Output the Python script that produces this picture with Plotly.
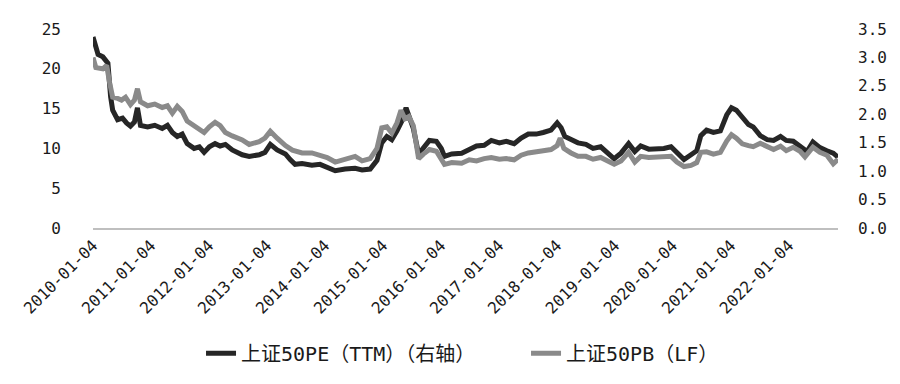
import plotly.graph_objects as go

pe_dates = ["2010-01-04","2010-01-16","2010-02-05","2010-03-07","2010-04-08","2010-04-25","2010-05-08","2010-06-08","2010-07-09","2010-08-03","2010-08-28","2010-09-22","2010-10-11","2010-10-30","2010-12-14",
            "2011-01-28","2011-03-16","2011-04-18","2011-05-19","2011-06-19","2011-07-20","2011-08-20","2011-10-03","2011-11-05","2011-12-05",
            "2012-01-07","2012-02-12","2012-03-15","2012-04-17","2012-05-30","2012-08-01","2012-09-14","2012-11-16","2012-12-22",
            "2013-01-25","2013-03-09","2013-04-30","2013-05-30","2013-06-30","2013-08-13","2013-10-14","2013-12-04",
            "2014-01-18","2014-03-10","2014-05-11","2014-07-13","2014-08-26","2014-10-16","2014-11-28","2014-12-28",
            "2015-01-29","2015-03-01","2015-04-03","2015-05-05","2015-05-30","2015-06-21","2015-07-15","2015-08-17","2015-09-16","2015-10-24","2015-12-07",
            "2016-01-07","2016-01-27","2016-03-13","2016-05-14","2016-07-01","2016-08-16","2016-10-03","2016-11-17",
            "2017-01-07","2017-02-19","2017-04-10","2017-05-24","2017-07-08","2017-08-27","2017-10-10","2017-11-28",
            "2018-01-06","2018-01-31","2018-02-23","2018-04-03","2018-05-17","2018-07-06","2018-08-20","2018-10-07","2018-11-21","2018-12-31",
            "2019-02-12","2019-04-01","2019-05-10","2019-06-16","2019-08-06","2019-09-27","2019-11-09","2019-12-24",
            "2020-01-30","2020-03-15","2020-04-28","2020-06-03","2020-06-29","2020-08-04","2020-09-16","2020-10-30","2020-12-09",
            "2021-01-08","2021-02-08","2021-03-17","2021-04-25","2021-05-25","2021-07-08","2021-08-21","2021-09-30","2021-11-13","2021-12-19",
            "2022-02-01","2022-03-16","2022-04-29","2022-06-05","2022-07-19","2022-09-01","2022-10-11","2022-11-10"]
pe_values = [24.0,23.0,21.8,21.5,20.7,16.5,14.8,13.6,13.8,13.2,12.8,13.3,15.1,12.9,12.7,
             12.9,12.5,12.9,12.0,11.5,11.8,10.6,10.0,10.2,9.5,
             10.2,10.6,10.3,10.5,9.8,9.2,9.0,9.2,9.5,
             10.5,9.8,9.3,8.6,8.0,8.1,7.9,8.0,
             7.6,7.2,7.4,7.5,7.3,7.4,8.5,10.7,
             11.5,11.1,12.2,13.5,15.1,14.0,12.5,9.3,10.0,11.0,10.9,
             10.0,9.0,9.3,9.4,9.8,10.3,10.4,11.0,
             10.7,10.9,10.6,11.3,11.8,11.8,12.0,12.3,
             13.2,12.6,11.5,11.1,10.7,10.5,10.0,10.2,9.5,8.7,
             9.4,10.6,9.6,10.3,9.9,9.9,10.0,10.2,
             9.5,8.6,9.2,9.7,11.6,12.3,12.0,12.2,14.2,
             15.1,14.8,13.8,13.0,12.7,11.6,11.1,11.0,11.5,11.0,
             10.9,10.3,9.6,10.8,10.1,9.7,9.4,8.9]

pb_dates = ["2010-01-04","2010-01-22","2010-03-07","2010-03-31","2010-04-19","2010-05-08","2010-06-08","2010-07-03","2010-07-28","2010-08-28","2010-09-22","2010-10-11","2010-10-30","2010-12-14",
            "2011-01-28","2011-03-16","2011-04-18","2011-05-19","2011-06-19","2011-07-20","2011-08-20","2011-10-03","2011-11-05","2011-12-05",
            "2012-01-07","2012-02-12","2012-03-15","2012-04-17","2012-05-30","2012-08-01","2012-09-14","2012-11-16","2012-12-22",
            "2013-01-25","2013-03-09","2013-04-30","2013-06-13","2013-08-13","2013-10-14","2013-12-04",
            "2014-01-18","2014-03-10","2014-05-11","2014-07-13","2014-08-26","2014-10-16","2014-11-28","2014-12-28",
            "2015-01-29","2015-03-01","2015-04-03","2015-04-28","2015-05-23","2015-06-17","2015-07-15","2015-08-17","2015-09-16","2015-10-24","2015-12-07",
            "2016-01-07","2016-01-27","2016-03-13","2016-05-14","2016-07-01","2016-08-16","2016-10-03","2016-11-17",
            "2017-01-07","2017-02-19","2017-04-10","2017-05-24","2017-07-08","2017-08-27","2017-10-10","2017-11-28",
            "2018-01-06","2018-01-25","2018-02-17","2018-04-03","2018-05-17","2018-07-06","2018-08-20","2018-10-07","2018-11-21","2018-12-31",
            "2019-02-12","2019-04-01","2019-05-10","2019-06-16","2019-08-06","2019-09-27","2019-11-09","2019-12-24",
            "2020-01-30","2020-03-15","2020-04-28","2020-06-03","2020-06-29","2020-08-04","2020-09-16","2020-10-30","2020-12-09",
            "2021-01-08","2021-02-08","2021-03-17","2021-04-25","2021-05-25","2021-07-08","2021-08-21","2021-09-30","2021-11-13","2021-12-19",
            "2022-02-01","2022-03-16","2022-04-16","2022-06-05","2022-07-19","2022-09-01","2022-10-11","2022-11-10"]
pb_values = [3.00,2.82,2.80,2.86,2.55,2.30,2.28,2.25,2.30,2.17,2.25,2.45,2.22,2.15,
             2.18,2.12,2.15,2.02,2.14,2.05,1.88,1.80,1.72,1.68,
             1.78,1.86,1.80,1.68,1.62,1.55,1.47,1.52,1.58,
             1.70,1.58,1.45,1.37,1.32,1.32,1.28,
             1.24,1.16,1.22,1.26,1.18,1.22,1.40,1.76,
             1.78,1.67,1.85,2.07,1.92,1.96,1.80,1.22,1.30,1.38,1.35,
             1.22,1.12,1.15,1.14,1.20,1.18,1.22,1.24,
             1.21,1.22,1.20,1.28,1.32,1.33,1.36,1.38,
             1.45,1.58,1.40,1.32,1.26,1.26,1.21,1.24,1.18,1.12,
             1.18,1.33,1.16,1.26,1.24,1.25,1.24,1.26,
             1.16,1.08,1.10,1.15,1.33,1.34,1.30,1.33,1.53,
             1.64,1.58,1.48,1.45,1.43,1.49,1.42,1.38,1.44,1.36,
             1.42,1.35,1.25,1.42,1.33,1.28,1.13,1.21]

tick_dates = ["%d-01-04" % y for y in range(2010, 2023)]
left_ticks = [0, 5, 10, 15, 20, 25]
right_ticks = [0.0, 0.5, 1.0, 1.5, 2.0, 2.5, 3.0, 3.5]

FONT = "DejaVu Sans Mono, Noto Sans CJK SC"

fig = go.Figure()
fig.add_trace(go.Scatter(x=pe_dates, y=pe_values, mode="lines", name="上证50PE（TTM）（右轴）",
                         line=dict(color="#262626", width=5), yaxis="y"))
fig.add_trace(go.Scatter(x=pb_dates, y=pb_values, mode="lines", name="上证50PB（LF）",
                         line=dict(color="#8a8a8a", width=5), yaxis="y2"))

fig.update_layout(
    width=892, height=376,
    margin=dict(l=82, r=62, t=19, b=146),
    paper_bgcolor="white", plot_bgcolor="white",
    font=dict(family=FONT, color="#1a1a1a", size=16),
    showlegend=True,
    legend=dict(orientation="h", x=0.145, xanchor="left", y=-0.63, yanchor="middle",
                font=dict(size=20, family=FONT), entrywidth=280, entrywidthmode="pixels"),
    xaxis=dict(type="date", range=["2010-01-04", "2022-11-10"],
               tickvals=tick_dates, ticktext=tick_dates, tickangle=-45,
               showgrid=False, zeroline=False, showline=True, linecolor="#bfbfbf", linewidth=1.5,
               ticks="", tickfont=dict(size=16, family=FONT)),
    yaxis=dict(range=[0, 25], tickvals=left_ticks, showgrid=False, zeroline=False,
               showline=False, ticks="", ticklabelstandoff=31, tickfont=dict(size=16, family=FONT)),
    yaxis2=dict(range=[0, 3.5], tickvals=right_ticks, ticktext=["%.1f" % v for v in right_ticks],
                overlaying="y", side="right", showgrid=False, zeroline=False, showline=False,
                ticks="", ticklabelstandoff=19, tickfont=dict(size=16, family=FONT)),
)

fig.write_html("out.html")
